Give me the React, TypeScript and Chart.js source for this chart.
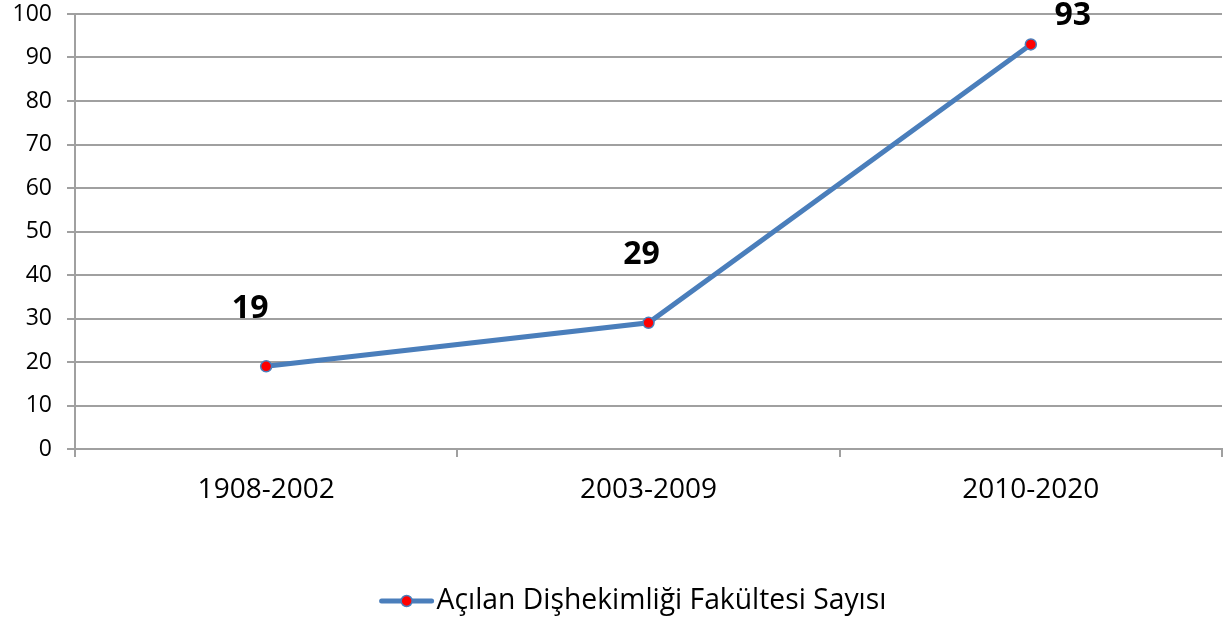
import React, { useEffect, useRef } from "react";
import { Chart, registerables } from "chart.js";

Chart.register(...registerables);

const categories = ["1908-2002", "2003-2009", "2010-2020"];
const seriesLabel = "Açılan Dişhekimliği Fakültesi Sayısı";
const seriesValues = [19, 29, 93];
const yTicks = { min: 0, max: 100, step: 10 };
// label offset from its point (px), as placed in the reference
const labelOffsets = [
  [-16, -57],
  [-7, -68],
  [42, -29],
];

const FONT = "'Open Sans', 'Noto Sans', sans-serif";
const LINE_COLOR = "#4A7EBB";
const GRID_COLOR = "#A0A0A0";

const dataLabelPlugin = {
  id: "dataLabels",
  afterDatasetsDraw(chart: any) {
    const ctx = chart.ctx;
    const meta = chart.getDatasetMeta(0);
    ctx.save();
    ctx.font = `bold 32px ${FONT}`;
    ctx.fillStyle = "#000";
    ctx.textAlign = "center";
    ctx.textBaseline = "middle";
    meta.data.forEach((pt: any, i: number) => {
      const [dx, dy] = labelOffsets[i];
      ctx.fillText(String(seriesValues[i]), pt.x + dx, pt.y + dy);
    });
    ctx.restore();
  },
};

const legendPlugin = {
  id: "customLegend",
  afterDraw(chart: any) {
    const ctx = chart.ctx;
    ctx.save();
    ctx.font = `28.3px ${FONT}`;
    const text = chart.data.datasets[0].label;
    const tw = ctx.measureText(text).width;
    const markerW = 54;
    const gap = 3;
    const total = markerW + gap + tw;
    const cx = 633;
    const y = 601;
    const x0 = cx - total / 2;
    ctx.strokeStyle = LINE_COLOR;
    ctx.lineWidth = 5;
    ctx.lineCap = "round";
    ctx.beginPath();
    ctx.moveTo(x0 + 2, y);
    ctx.lineTo(x0 + markerW - 2, y);
    ctx.stroke();
    ctx.beginPath();
    ctx.arc(x0 + markerW / 2, y, 5.5, 0, Math.PI * 2);
    ctx.fillStyle = "#FF0000";
    ctx.fill();
    ctx.lineWidth = 1.5;
    ctx.stroke();
    ctx.fillStyle = "#000";
    ctx.textAlign = "left";
    ctx.textBaseline = "middle";
    ctx.fillText(text, x0 + markerW + gap, y);
    ctx.restore();
  },
};

export default function App() {
  const ref = useRef<HTMLCanvasElement>(null);
  useEffect(() => {
    if (!ref.current) return;
    const chart = new Chart(ref.current, {
      type: "line",
      data: {
        labels: categories,
        datasets: [
          {
            label: seriesLabel,
            data: seriesValues,
            borderColor: LINE_COLOR,
            borderWidth: 5,
            pointRadius: 5.5,
            pointBackgroundColor: "#FF0000",
            pointBorderColor: LINE_COLOR,
            pointBorderWidth: 1.5,
            tension: 0,
          },
        ],
      },
      options: {
        responsive: false,
        animation: false,
        layout: { padding: { top: 14, right: 8, bottom: 0, left: 0 } },
        plugins: {
          legend: { display: false },
          tooltip: { enabled: false },
        },
        scales: {
          x: {
            offset: true,
            grid: {
              offset: true,
              drawOnChartArea: false,
              drawTicks: true,
              tickLength: 8,
              color: GRID_COLOR,
              lineWidth: 2,
            },
            border: { color: GRID_COLOR, width: 2 },
            ticks: {
              color: "#000",
              font: { family: FONT, size: 28 },
              padding: 16,
              maxRotation: 0,
            },
            afterFit(scale: any) {
              scale.height = 175;
            },
          },
          y: {
            min: yTicks.min,
            max: yTicks.max,
            ticks: {
              stepSize: yTicks.step,
              color: "#000",
              font: { family: FONT, size: 23 },
              padding: 15,
            },
            grid: {
              color: GRID_COLOR,
              lineWidth: 2,
              tickLength: 8,
            },
            border: { color: GRID_COLOR, width: 2 },
            afterFit(scale: any) {
              scale.width = 75;
              scale.paddingTop = 0;
              scale.paddingBottom = 0;
            },
          },
        },
      },
      plugins: [dataLabelPlugin, legendPlugin],
    });
    return () => chart.destroy();
  }, []);
  return (
    <div style={{ position: "absolute", left: 0, top: 0, width: 1230, height: 624, background: "#fff" }}>
      <canvas ref={ref} width={1230} height={624} />
    </div>
  );
}
